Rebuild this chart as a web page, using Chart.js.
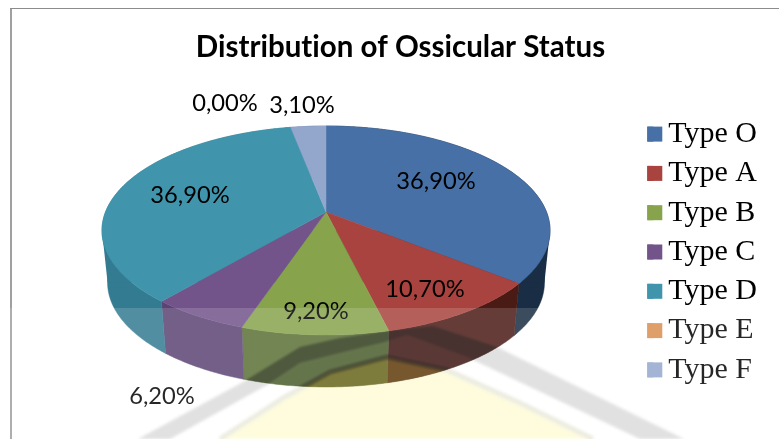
<!DOCTYPE html>
<html>
<head>
<meta charset="utf-8">
<title>Distribution of Ossicular Status</title>
<script src="https://cdn.jsdelivr.net/npm/chart.js@4"></script>
<style>
  html, body { margin: 0; padding: 0; background: #fff; overflow: hidden; }
  canvas { display: block; }
</style>
</head>
<body>
<canvas id="chart" width="779" height="439"></canvas>
<script>
const categories = ["Type O", "Type A", "Type B", "Type C", "Type D", "Type E", "Type F"];
const values = [36.9, 10.7, 9.2, 6.2, 36.9, 0, 3.1];

const faceColors = ["#4670a6", "#a8433f", "#87a44c", "#72548b", "#4095ad", "#da8f50", "#93a7cd"];
const wallColors = ["#192d44", "#4a1a15", "#5a7035", "#5b4372", "#337b91", "#9a5f2c", "#61749a"];

// where each value label sits in the picture
const labelSpots = [[436, 181], [425, 289], [316, 311], [162, 396], [190, 195], [225, 103], [302, 105]];

// ======================
// PROJECTION (tilted disc)
// ======================

const CX = 326, CY = 212, A = 220.5, B = 101.2, K = 0.177, DEPTH = 52, SHRINK = 0.975;

// angle comes from the arc element, 0 = 3 o'clock like in Chart.js
function rimPoint(angle) {
  const u = Math.cos(angle);
  const v = Math.sin(angle);
  const w = 1 - K * v;
  return [CX + A * u / w, CY + B * v / w];
}

function lowerPoint(p) {
  return [CX + (p[0] - CX) * SHRINK, p[1] + DEPTH];
}

function rimPoints(a1, a2) {
  const steps = Math.max(2, Math.ceil((a2 - a1) / 0.01));
  const pts = [];
  for (let i = 0; i <= steps; i++) pts.push(rimPoint(a1 + (a2 - a1) * i / steps));
  return pts;
}

function tracePoly(ctx, pts) {
  ctx.beginPath();
  pts.forEach((p, i) => i ? ctx.lineTo(p[0], p[1]) : ctx.moveTo(p[0], p[1]));
  ctx.closePath();
}

function wallPoly(a1, a2) {
  const top = rimPoints(a1, a2);
  return top.concat(top.slice().reverse().map(lowerPoint));
}

// straight silhouette edge between the two rims, left and right
function drawSideEdge(ctx, arc, color) {
  const two = Math.PI * 2;
  [Math.asin(K), Math.PI - Math.asin(K)].forEach(angle => {
    const inArc = [angle, angle + two].some(a => a >= arc.startAngle && a <= arc.endAngle);
    if (!inArc) return;
    const p = rimPoint(angle);
    const q = lowerPoint(p);
    tracePoly(ctx, [p, q, [CX, q[1]], [CX, p[1]]]);
    ctx.fillStyle = color;
    ctx.fill();
  });
}

// ======================
// WATERMARK BEHIND THE SCAN
// ======================

const THIN_LINE = [[220, 439], [285, 397], [330, 372], [387, 357], [447, 370], [520, 403], [593, 439]];
const WIDE_UPPER = [[138, 439], [243, 382], [300, 347], [340, 338], [385, 331], [433, 326], [497, 347], [684, 439]];
const WIDE_LOWER = [[640, 439], [467, 357], [407, 335], [385, 342], [340, 353], [300, 363], [267, 385], [170, 439]];

const WIDE_BAND = WIDE_UPPER.concat(WIDE_LOWER);
const MID_BAND = WIDE_LOWER.concat(THIN_LINE);

function drawThinLine(ctx, color) {
  ctx.strokeStyle = color;
  ctx.lineWidth = 5;
  ctx.beginPath();
  THIN_LINE.forEach((p, i) => i ? ctx.lineTo(p[0], p[1]) : ctx.moveTo(p[0], p[1]));
  ctx.stroke();
}

function drawWatermark(ctx) {
  ctx.save();
  ctx.filter = "blur(1.5px)";
  ctx.fillStyle = "#fefcd8";
  tracePoly(ctx, THIN_LINE);
  ctx.fill();
  ctx.fillStyle = "#dcdcdc";
  tracePoly(ctx, WIDE_BAND);
  ctx.fill();
  drawThinLine(ctx, "#e9e9dd");
  ctx.restore();
}

function drawWatermarkOnWall(ctx) {
  ctx.save();
  tracePoly(ctx, wallPoly(-Math.PI * 0.02, Math.PI * 1.02));
  ctx.clip();
  ctx.filter = "blur(1px)";
  ctx.globalCompositeOperation = "multiply";
  ctx.fillStyle = "#d4d4d4";
  tracePoly(ctx, MID_BAND);
  ctx.fill();
  ctx.fillStyle = "#8a8a8a";
  tracePoly(ctx, WIDE_BAND);
  ctx.fill();
  ctx.globalCompositeOperation = "source-over";
  ctx.fillStyle = "rgba(117,90,0,0.5)";
  tracePoly(ctx, THIN_LINE);
  ctx.fill();
  ctx.globalCompositeOperation = "multiply";
  drawThinLine(ctx, "#8a8a8a");
  ctx.restore();
}

// ======================
// PLUGIN
// ======================

const pie3d = {
  id: "pie3d",
  beforeDraw(chart) {
    // no "ti" ligature in the title
    chart.ctx.textRendering = "optimizeSpeed";
  },
  beforeDatasetsDraw(chart) {
    const ctx = chart.ctx;
    const arcs = chart.getDatasetMeta(0).data;

    ctx.save();
    drawWatermark(ctx);

    // walls first, the top face covers the back ones
    arcs.forEach((arc, i) => {
      if (arc.endAngle - arc.startAngle <= 0) return;
      tracePoly(ctx, wallPoly(arc.startAngle, arc.endAngle));
      ctx.fillStyle = wallColors[i];
      ctx.strokeStyle = wallColors[i];
      ctx.lineWidth = 0.5;
      ctx.fill();
      ctx.stroke();
      drawSideEdge(ctx, arc, wallColors[i]);
    });

    drawWatermarkOnWall(ctx);

    arcs.forEach((arc, i) => {
      if (arc.endAngle - arc.startAngle <= 0) return;
      tracePoly(ctx, [[CX, CY]].concat(rimPoints(arc.startAngle, arc.endAngle)));
      ctx.fillStyle = faceColors[i];
      ctx.strokeStyle = faceColors[i];
      ctx.lineWidth = 0.5;
      ctx.fill();
      ctx.stroke();
    });

    // legend squares are wider than the gap Chart.js leaves
    chart.legend.legendHitBoxes.forEach((box, i) => {
      ctx.fillStyle = faceColors[i];
      ctx.fillRect(box.left, box.top + (box.height - 15) / 2, 15, 15);
    });
    ctx.restore();
    return false;
  },
  afterDraw(chart) {
    const ctx = chart.ctx;
    ctx.save();

    ctx.font = "23.7px Lato";
    ctx.fillStyle = "#000";
    ctx.textAlign = "center";
    ctx.textBaseline = "middle";
    values.forEach((v, i) => {
      const text = v.toFixed(2).replace(".", ",") + "%";
      ctx.fillText(text, labelSpots[i][0], labelSpots[i][1]);
    });

    // frame of the scanned figure
    ctx.fillStyle = "#a0a0a0";
    ctx.fillRect(10, 8, 2, 431);
    ctx.fillStyle = "#8c8c8c";
    ctx.fillRect(10, 8, 769, 1);

    // lighter lower part of the scan
    ctx.fillStyle = "rgba(255,255,255,0.15)";
    ctx.fillRect(0, 308, 779, 131);
    ctx.restore();
  }
};

new Chart(document.getElementById("chart"), {
  type: "pie",
  data: {
    labels: categories,
    datasets: [{
      data: values,
      backgroundColor: faceColors,
      borderWidth: 0
    }]
  },
  plugins: [pie3d],
  options: {
    responsive: false,
    animation: false,
    layout: { padding: { left: 34, right: 12, top: 30, bottom: -35 } },
    plugins: {
      tooltip: { enabled: false },
      title: {
        display: true,
        text: "Distribution of Ossicular Status",
        color: "#000",
        font: { family: "Lato", size: 29.5, weight: "bold" },
        padding: { top: 0, bottom: 10 }
      },
      legend: {
        position: "right",
        labels: {
          color: "#000",
          boxWidth: 6,
          boxHeight: 15,
          padding: 9.3,
          font: { family: "'Liberation Serif'", size: 30 }
        }
      }
    }
  }
});
</script>
</body>
</html>
